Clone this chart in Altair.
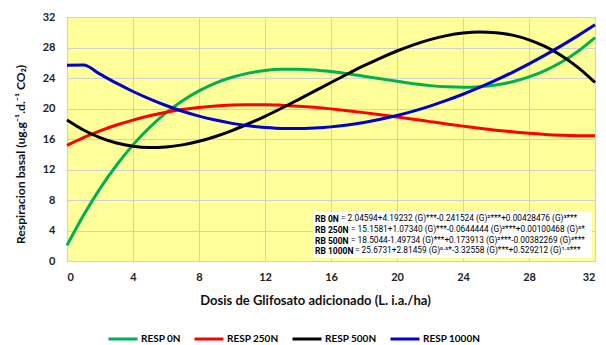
import altair as alt
import pandas as pd

# Glyphosate doses (L a.i./ha)
dosis = list(range(0, 33))

# Basal respiration for each nitrogen level
resp_0n = [2.05, 6.00, 9.50, 12.56, 15.23, 17.51, 19.43, 21.03, 22.32, 23.34, 24.10,
           24.64, 24.98, 25.14, 25.16, 25.05, 24.84, 24.57, 24.24, 23.90, 23.56,
           23.25, 23.00, 22.84, 22.78, 22.85, 23.08, 23.50, 24.14, 25.01, 26.13,
           27.55, 29.29]
resp_250n = [15.16, 16.17, 17.06, 17.83, 18.48, 19.04, 19.50, 19.86, 20.13, 20.33, 20.45,
             20.50, 20.50, 20.43, 20.31, 20.15, 19.95, 19.72, 19.46, 19.18, 18.89,
             18.58, 18.28, 17.98, 17.69, 17.41, 17.16, 16.94, 16.74, 16.59, 16.49,
             16.43, 16.44]
resp_500n = [18.50, 17.18, 16.17, 15.47, 15.05, 14.89, 14.96, 15.23, 15.70, 16.33, 17.10,
             18.00, 18.97, 20.03, 21.14, 22.27, 23.41, 24.53, 25.61, 26.62, 27.54,
             28.35, 29.03, 29.56, 29.90, 30.04, 29.95, 29.62, 29.01, 28.11, 26.89,
             25.33, 23.41]
resp_1000n = [25.67, 25.69, 24.50, 23.32, 22.23, 21.26, 20.39, 19.64, 19.00, 18.48, 18.05,
              17.73, 17.52, 17.39, 17.37, 17.44, 17.59, 17.84, 18.17, 18.59, 19.08,
              19.66, 20.32, 21.06, 21.87, 22.76, 23.72, 24.75, 25.86, 27.04, 28.28,
              29.59, 30.97]

series_names = ["RESP 0N", "RESP 250N", "RESP 500N", "RESP 1000N"]
series_colors = ["#00B050", "#FF0000", "#000000", "#0000CC"]

ticks = [0, 4, 8, 12, 16, 20, 24, 28, 32]

eq_labels = ["RB 0N", "RB 250N", "RB 500N", "RB 1000N"]
eq_texts = [
    "= 2.04594+4.19232 (G)***-0.241524 (G)²***+0.00428476 (G)³***",
    "= 15.1581+1.07340 (G)***-0.0644444 (G)²***+0.00100468 (G)³*",
    "= 18.5044-1.49734 (G)***+0.173913 (G)²***-0.00382269 (G)³***",
    "= 25.6731+2.81459 (G)⁰·⁵*-3.32558 (G)***+0.529212 (G)¹·⁵***",
]

rows = []
for name, vals in zip(series_names, [resp_0n, resp_250n, resp_500n, resp_1000n]):
    for d, v in zip(dosis, vals):
        rows.append({"dosis": d, "resp": v, "serie": name})
df = pd.DataFrame(rows)

FONT = "Lato"
EQ_FONT = "Roboto"

lines = alt.Chart(df).mark_line(strokeWidth=3, interpolate="monotone").encode(
    x=alt.X("dosis:Q", scale=alt.Scale(domain=[0, 32], nice=False),
            axis=alt.Axis(values=ticks, title="Dosis de Glifosato adicionado (L. i.a./ha)",
                          titleX=248, titleY=39, titleBaseline="middle",
                          labelPadding=10)),
    y=alt.Y("resp:Q", scale=alt.Scale(domain=[0, 32], nice=False),
            axis=alt.Axis(values=ticks, title="Respiracion basal (ug.g⁻¹.d.⁻¹ CO₂)",
                          titleX=-47, titleY=137, titleAngle=-90, titleAlign="center",
                          titleBaseline="middle", titleFontSize=12.2, labelPadding=12)),
    color=alt.Color("serie:N",
                    scale=alt.Scale(domain=series_names, range=series_colors),
                    legend=alt.Legend(title=None, orient="none", direction="horizontal",
                                      legendX=40, legendY=306, symbolType="stroke",
                                      symbolSize=841, symbolStrokeWidth=3,
                                      labelFont=FONT, labelFontWeight="bold",
                                      labelFontSize=10, labelOffset=2,
                                      columnPadding=7)),
    order=alt.Order("serie_order:Q"),
).transform_calculate(
    serie_order="indexof(['RESP 0N','RESP 250N','RESP 500N','RESP 1000N'], datum.serie)"
)

# white box behind the fitted equations
eq_box = alt.Chart(pd.DataFrame({"k": [0]})).mark_rect(color="white").encode(
    x=alt.value(246), x2=alt.value(525), y=alt.value(195), y2=alt.value(241)
)

layers = [lines, eq_box]
label_w = [26, 36, 36, 40]
for i, (lab, eq) in enumerate(zip(eq_labels, eq_texts)):
    ypos = 202 + 10.8 * i
    src = pd.DataFrame({"t": [lab], "e": [eq]})
    layers.append(alt.Chart(src).mark_text(
        font=EQ_FONT, fontWeight="bold", fontSize=8.5, align="left", baseline="middle"
    ).encode(x=alt.value(248), y=alt.value(ypos), text="t:N"))
    layers.append(alt.Chart(src).mark_text(
        font=EQ_FONT, fontSize=8.3, align="left", baseline="middle"
    ).encode(x=alt.value(248 + label_w[i]), y=alt.value(ypos), text="e:N"))

chart = alt.layer(*layers).properties(
    width=528, height=244,
    autosize=alt.AutoSizeParams(type="none"),
    padding={"left": 67, "top": 17, "right": 11, "bottom": 84},
).configure_view(
    fill="#FFFF99", stroke="#BFBFBF", strokeWidth=1
).configure_axis(
    grid=True, gridColor="#D0D0D0", gridWidth=1, domain=False, ticks=False,
    labelFont=FONT, labelFontWeight="bold", labelFontSize=11, labelColor="#222222",
    titleFont=FONT, titleFontWeight="bold", titleFontSize=13, titleColor="#111111",
)

chart.save("out.html", embed_options={"renderer": "svg", "actions": False})
